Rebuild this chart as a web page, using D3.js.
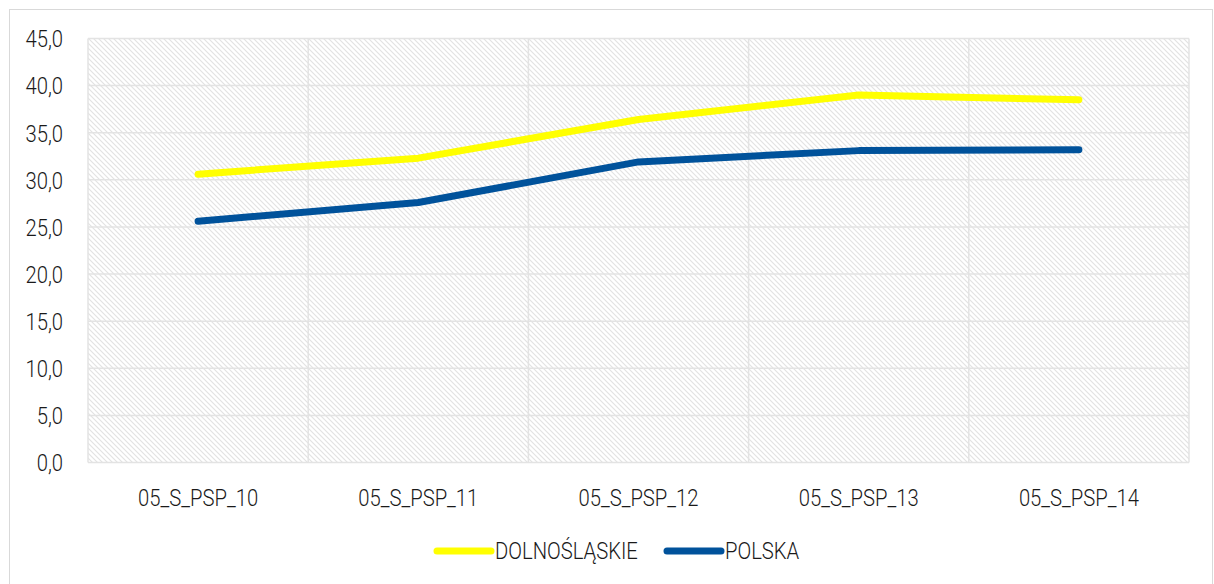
<!DOCTYPE html>
<html><head><meta charset="utf-8">
<script src="https://cdn.jsdelivr.net/npm/d3@7"></script>
<style>
html,body{margin:0;padding:0;background:#fff;}
text{font-family:Roboto,sans-serif;font-weight:300;fill:#1a1a1a;}
</style></head>
<body>
<svg id="c" width="1214" height="584"></svg>
<script>
const categories = ["05_S_PSP_10","05_S_PSP_11","05_S_PSP_12","05_S_PSP_13","05_S_PSP_14"];
const dolnoslaskie = [30.6, 32.3, 36.4, 39.0, 38.5];
const polska = [25.6, 27.6, 31.9, 33.1, 33.2];
const yTicks = [0,5,10,15,20,25,30,35,40,45];
const seriesNames = ["DOLNOŚLĄSKIE","POLSKA"];
const colors = ["#FFFF00","#00529B"];

const SX = 0.88; // horizontal condensing of the text
const svg = d3.select("#c");
const defs = svg.append("defs");
const P = 5;
const pat = defs.append("pattern").attr("id","hatch").attr("patternUnits","userSpaceOnUse")
  .attr("width",P).attr("height",P);
pat.append("rect").attr("width",P).attr("height",P).attr("fill","#fff");
pat.append("path").attr("d",`M-1,-1 L${P+1},${P+1} M-1,${P-1} L1,${P+1} M${P-1},-1 L${P+1},1`)
  .attr("stroke","#e2e2e2").attr("stroke-width",1.1);

svg.append("rect").attr("x",9.5).attr("y",9.5).attr("width",1203).attr("height",580)
  .attr("fill","#fff").attr("stroke","#d9d9d9").attr("stroke-width",1);

const m = {l:88, r:1189, t:38.5, b:462.5};
const x = d3.scaleBand().domain(categories).range([m.l,m.r]);
const y = d3.scaleLinear().domain([0,45]).range([m.b,m.t]);

svg.append("rect").attr("x",m.l).attr("y",m.t).attr("width",m.r-m.l).attr("height",m.b-m.t)
  .attr("fill","url(#hatch)");

const grid = svg.append("g");
grid.selectAll("line.h").data(yTicks).join("line")
  .attr("x1",m.l).attr("x2",m.r).attr("y1",d=>y(d)).attr("y2",d=>y(d))
  .attr("stroke","#e3e3e3").attr("stroke-width",1.5);
const bounds = categories.map(c=>x(c)).concat([x(categories[categories.length-1])+x.bandwidth()]);
grid.selectAll("line.v").data(bounds).join("line")
  .attr("x1",d=>d).attr("x2",d=>d).attr("y1",m.t).attr("y2",m.b)
  .attr("stroke","#e3e3e3").attr("stroke-width",1.5);

const fmt = d=>d3.format(".1f")(d).replace(".",",");
const ya = svg.append("g").attr("transform",`translate(${m.l},0)`)
  .call(d3.axisLeft(y).tickValues(yTicks).tickFormat(fmt).tickSize(0).tickPadding(25));
ya.select(".domain").remove();
ya.selectAll("text").attr("font-size",23).attr("font-family",null).attr("fill",null)
  .attr("dy","0.36em").each(function(){
    d3.select(this).attr("transform",`translate(-25,0) scale(${SX},1)`).attr("x",0);
  });

const xa = svg.append("g").attr("transform",`translate(0,${m.b})`)
  .call(d3.axisBottom(x).tickSize(0).tickPadding(24));
xa.select(".domain").remove();
xa.selectAll("text").attr("font-size",23).attr("font-family",null).attr("fill",null)
  .attr("dy","0.71em").attr("y",0)
  .attr("transform",`translate(0,27) scale(${SX},1)`);

const line = d3.line().x((d,i)=>x(categories[i])+x.bandwidth()/2).y(d=>y(d));
[dolnoslaskie, polska].forEach((s,k)=>{
  svg.append("path").datum(s).attr("d",line).attr("fill","none")
    .attr("stroke",colors[k]).attr("stroke-width",7)
    .attr("stroke-linecap","round").attr("stroke-linejoin","round");
});

const leg = svg.append("g");
const legX = [437, 667];
seriesNames.forEach((n,k)=>{
  leg.append("line").attr("x1",legX[k]).attr("x2",legX[k]+54).attr("y1",551).attr("y2",551)
    .attr("stroke",colors[k]).attr("stroke-width",7).attr("stroke-linecap","round");
  leg.append("text").attr("transform",`translate(${legX[k]+58},551) scale(${SX},1)`)
    .attr("dy","0.36em").attr("font-size",23).text(n);
});
</script>
</body></html>
